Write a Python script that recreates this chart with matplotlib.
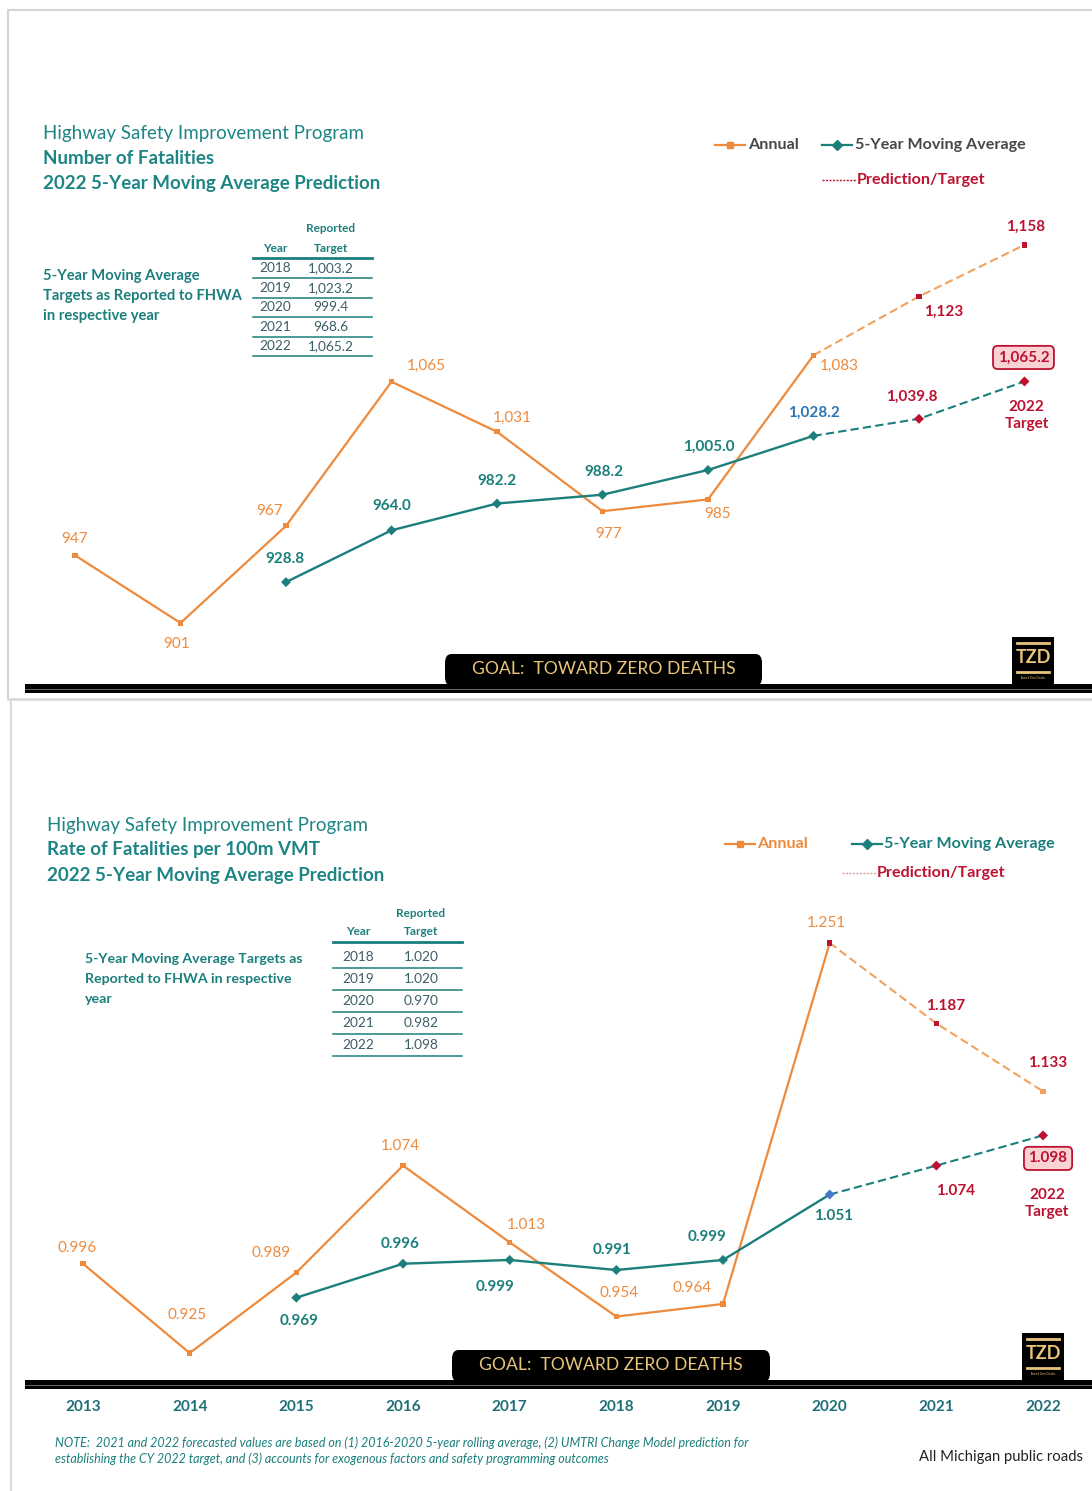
import matplotlib
matplotlib.use("Agg")
import matplotlib.pyplot as plt
from matplotlib.lines import Line2D
from matplotlib.patches import Rectangle, FancyBboxPatch

plt.rcParams['font.family'] = ['Lato', 'DejaVu Sans']

W, H = 1092, 1491

# ---- data ----
years = [2013, 2014, 2015, 2016, 2017, 2018, 2019, 2020, 2021, 2022]
ma_years = [2015, 2016, 2017, 2018, 2019, 2020, 2021, 2022]

fatal_annual = [947, 901, 967, 1065, 1031, 977, 985, 1083, 1123, 1158]
fatal_ma = [928.8, 964.0, 982.2, 988.2, 1005.0, 1028.2, 1039.8, 1065.2]

rate_annual = [0.996, 0.925, 0.989, 1.074, 1.013, 0.954, 0.964, 1.251, 1.187, 1.133]
rate_ma = [0.969, 0.996, 0.999, 0.991, 0.999, 1.051, 1.074, 1.098]

table_years = ['2018', '2019', '2020', '2021', '2022']
fatal_targets = ['1,003.2', '1,023.2', '999.4', '968.6', '1,065.2']
rate_targets = ['1.020', '1.020', '0.970', '0.982', '1.098']

# ---- colours ----
ORANGE = '#EE8A3C'
ORANGE_LIGHT = '#F2A25E'
TEAL = '#1B7F7C'
TITLE = '#1E8584'
RED = '#BC1230'
BLUE = '#2E75B6'
BLUE_MK = '#4A78C8'
GREY = '#474747'
TABLE_TXT = '#3B5E66'
GOLD = '#E8C47A'

fig = plt.figure(figsize=(W / 100, H / 100), dpi=100)


def fx(x):
    return x / W


def fy(y):
    return 1 - y / H


def ftext(x, y, s, **kw):
    kw.setdefault('ha', 'left')
    kw.setdefault('va', 'center')
    fig.text(fx(x), fy(y), s, **kw)


def fline(x0, x1, y0, y1, **kw):
    fig.add_artist(Line2D([fx(x0), fx(x1)], [fy(y0), fy(y1)],
                          transform=fig.transFigure, **kw))


def make_axes(x0, x1, y0, y1, xlim, ylim):
    ax = fig.add_axes([fx(x0), fy(y1), (x1 - x0) / W, (y1 - y0) / H])
    ax.set_xlim(*xlim)
    ax.set_ylim(*ylim)
    ax.patch.set_alpha(0)
    for s in ax.spines.values():
        s.set_visible(False)
    ax.set_yticks([])
    return ax


def label(ax, x, y, txt, off, color, bold=True, size=11, box=False):
    kw = dict(textcoords='offset points', ha='center', va='center',
              color=color, fontsize=size,
              fontweight='bold' if bold else 'normal', annotation_clip=False)
    if box:
        kw['bbox'] = dict(boxstyle='round,pad=0.3,rounding_size=0.3',
                          fc='#F9D3D3', ec=RED, lw=1.3)
    ax.annotate(txt, (x, y), xytext=(off[0] * 0.72, -off[1] * 0.72), **kw)


def draw_series(ax, annual, ma, ann_mk, ma_mk):
    ax.plot(years[:8], annual[:8], color=ORANGE, lw=1.6, zorder=2)
    ax.plot(years[7:], annual[7:], color=ORANGE_LIGHT, lw=1.5, ls=(0, (4, 2)), zorder=2)
    ax.plot(ma_years[:6], ma[:6], color=TEAL, lw=1.7, zorder=2)
    ax.plot(ma_years[5:], ma[5:], color=TEAL, lw=1.5, ls=(0, (4, 2)), zorder=2)
    ax.scatter(years, annual, marker='s', s=14, c=ann_mk, zorder=3, lw=0)
    ax.scatter(ma_years, ma, marker='D', s=26, c=ma_mk, zorder=3, lw=0)


def header(x, y, line2):
    ftext(x, y, 'Highway Safety Improvement Program', color=TITLE, fontsize=13.5)
    ftext(x, y + 24, line2, color=TITLE, fontsize=13.5, fontweight='bold')
    ftext(x, y + 49, '2022 5-Year Moving Average Prediction', color=TITLE,
          fontsize=13.5, fontweight='bold')


def target_table(x0, x1, xyr, xval, ytop, rows_y, values):
    ftext(xval, ytop, 'Reported', ha='center', color=TEAL, fontsize=8.5, fontweight='bold')
    ftext(xyr, ytop + 19, 'Year', ha='center', color=TEAL, fontsize=8.5, fontweight='bold')
    ftext(xval, ytop + 19, 'Target', ha='center', color=TEAL, fontsize=8.5, fontweight='bold')
    fline(x0, x1, ytop + 29, ytop + 29, color=TEAL, lw=2)
    step = rows_y[1] - rows_y[0]
    for yr, v, yy in zip(table_years, values, rows_y):
        ftext(xyr, yy, yr, ha='center', color=TABLE_TXT, fontsize=9.8)
        ftext(xval, yy, v, ha='center', color=TABLE_TXT, fontsize=9.8)
        fline(x0, x1, yy + step / 2, yy + step / 2, color=TEAL, lw=1.1)


def goal_bar(tab_x0, tab_x1, tab_y0, bar_y, logo_x, logo_y0):
    fig.add_artist(FancyBboxPatch((fx(tab_x0), fy(bar_y + 2)), (tab_x1 - tab_x0) / W,
                                  (bar_y + 2 - tab_y0) / H,
                                  boxstyle='round,pad=0,rounding_size=0.006',
                                  transform=fig.transFigure, fc='black', ec='none'))
    ftext((tab_x0 + tab_x1) / 2, (tab_y0 + bar_y) / 2, 'GOAL:  TOWARD ZERO DEATHS',
          ha='center', color=GOLD, fontsize=12.6)
    fig.add_artist(Rectangle((fx(25), fy(bar_y + 9)), (W - 25) / W, 9 / H,
                             transform=fig.transFigure, fc='black', ec='none'))
    fline(25, W, bar_y + 4.5, bar_y + 4.5, color='#777777', lw=0.6)
    # TZD logo
    fig.add_artist(Rectangle((fx(logo_x), fy(bar_y)), 42 / W, (bar_y - logo_y0) / H,
                             transform=fig.transFigure, fc='black', ec='none'))
    fline(logo_x + 5, logo_x + 37, logo_y0 + 6, logo_y0 + 6, color=GOLD, lw=2)
    fline(logo_x + 5, logo_x + 37, bar_y - 12, bar_y - 12, color=GOLD, lw=2)
    ftext(logo_x + 21, (logo_y0 + bar_y) / 2 - 3, 'TZD', ha='center', color=GOLD,
          fontsize=13, fontweight='bold')
    ftext(logo_x + 21, bar_y - 6, 'Toward Zero Deaths', ha='center', color=GOLD, fontsize=2)


# ---- panel frames ----
fline(8, W, 10, 10, color='#D5D5D5', lw=1.5)
fline(8, 8, 10, 697, color='#D5D5D5', lw=1.5)
fline(8, W, 699, 699, color='#DADADA', lw=2)
fline(11, 11, 700, H, color='#DADADA', lw=1.5)

# ================= top: number of fatalities =================
ax1 = make_axes(0, W, 10, 695, (2012.289, 2022.640), (852.05, 1317.7))
ax1.set_xticks([])

ann_mk1 = [ORANGE] * 8 + [RED, RED]
ma_mk1 = [TEAL] * 6 + [RED, RED]
draw_series(ax1, fatal_annual, fatal_ma, ann_mk1, ma_mk1)

ann_off1 = [(0, -16), (-4, 21), (-16, -15), (35, -16), (15, -14), (6, 23), (10, 15),
            (26, 11), (25, 15), (1, -18)]
for i, (x, v) in enumerate(zip(years, fatal_annual)):
    col = RED if i >= 8 else ORANGE
    label(ax1, x, v, f'{v:,}', ann_off1[i], col, bold=(i >= 8))

ma_off1 = [(-1, -23), (0, -24), (0, -23), (1, -23), (1, -23), (0, -23), (-7, -22), (-1, -24)]
ma_col1 = [TEAL] * 5 + [BLUE, RED, RED]
for i, (x, v) in enumerate(zip(ma_years, fatal_ma)):
    label(ax1, x, v, f'{v:,.1f}', ma_off1[i], ma_col1[i], box=(i == 7))
label(ax1, 2022, fatal_ma[-1], '2022\nTarget', (2, 34), RED)

header(43, 134, 'Number of Fatalities')
for k, line in enumerate(['5-Year Moving Average', 'Targets as Reported to FHWA',
                          'in respective year']):
    ftext(43, 276 + 20 * k, line, color=TEAL, fontsize=10.6, fontweight='bold')
target_table(253, 372, 275, 331, 229, [268, 288, 307, 327, 346], fatal_targets)

# legend
fline(715, 745, 145, 145, color=ORANGE, lw=1.6)
fig.add_artist(Line2D([fx(730)], [fy(145)], transform=fig.transFigure, marker='s',
                      ms=4, color=ORANGE))
ftext(748, 145, 'Annual', color=GREY, fontsize=11.6, fontweight='bold')
fline(822, 852, 145, 145, color=TEAL, lw=1.6)
fig.add_artist(Line2D([fx(837)], [fy(145)], transform=fig.transFigure, marker='D',
                      ms=5, color=TEAL))
ftext(855, 145, '5-Year Moving Average', color=GREY, fontsize=11.6, fontweight='bold')
fline(822, 856, 180, 180, color=RED, lw=1, ls=(0, (1.5, 1)))
ftext(857, 180, 'Prediction/Target', color=RED, fontsize=11.6, fontweight='bold')

goal_bar(445, 762, 654, 684, 1012, 637)

# ================= bottom: fatality rate =================
ax2 = make_axes(0, W, 700, 1386, (2012.222, 2022.459), (0.8988, 1.4441))
ax2.set_xticks(years)
ax2.set_xticklabels([str(y) for y in years], color='#1F6F78', fontsize=11, fontweight='bold')
ax2.tick_params(axis='x', length=0, pad=10)

ann_mk2 = [ORANGE] * 7 + [RED, RED, ORANGE_LIGHT]
ma_mk2 = [TEAL] * 5 + [BLUE_MK, RED, RED]
draw_series(ax2, rate_annual, rate_ma, ann_mk2, ma_mk2)

ann_off2 = [(-6, -16), (-3, -38), (-25, -20), (-3, -20), (17, -17), (3, -24), (-31, -16),
            (-3, -20), (9, -17), (5, -28)]
for i, (x, v) in enumerate(zip(years, rate_annual)):
    col = RED if i >= 8 else ORANGE
    label(ax2, x, v, f'{v:.3f}', ann_off2[i], col, bold=(i >= 8))

ma_off2 = [(3, 23), (-3, -20), (-15, 27), (-4, -20), (-16, -23), (4, 21), (19, 25), (5, 23)]
ma_col2 = [TEAL] * 6 + [RED, RED]
for i, (x, v) in enumerate(zip(ma_years, rate_ma)):
    label(ax2, x, v, f'{v:.3f}', ma_off2[i], ma_col2[i], box=(i == 7))
label(ax2, 2022, rate_ma[-1], '2022\nTarget', (4, 68), RED)

header(47, 826, 'Rate of Fatalities per 100m VMT')
for k, line in enumerate(['5-Year Moving Average Targets as', 'Reported to FHWA in respective',
                          'year']):
    ftext(85, 959 + 20 * k, line, color=TEAL, fontsize=10.2, fontweight='bold')
target_table(333, 462, 358, 421, 913, [957, 979, 1001, 1023, 1045], rate_targets)

# legend
fline(725, 755, 844, 844, color=ORANGE, lw=1.6)
fig.add_artist(Line2D([fx(740)], [fy(844)], transform=fig.transFigure, marker='s',
                      ms=4, color=ORANGE))
ftext(757, 844, 'Annual', color=ORANGE, fontsize=11.6, fontweight='bold')
fline(852, 882, 844, 844, color=TEAL, lw=1.6)
fig.add_artist(Line2D([fx(867)], [fy(844)], transform=fig.transFigure, marker='D',
                      ms=5, color=TEAL))
ftext(884, 844, '5-Year Moving Average', color=TEAL, fontsize=11.6, fontweight='bold')
fline(842, 876, 873, 873, color='#D9A0A8', lw=1, ls=(0, (1.5, 1)))
ftext(877, 873, 'Prediction/Target', color=RED, fontsize=11.6, fontweight='bold')

goal_bar(452, 770, 1350, 1380, 1022, 1333)

# footer notes
ftext(55, 1443, 'NOTE:  2021 and 2022 forecasted values are based on (1) 2016-2020 5-year rolling '
      'average, (2) UMTRI Change Model prediction for', color=TEAL, fontsize=9, style='italic')
ftext(55, 1459, 'establishing the CY 2022 target, and (3) accounts for exogenous factors and '
      'safety programming outcomes', color=TEAL, fontsize=9, style='italic')
ftext(1083, 1457, 'All Michigan public roads', ha='right', color='#222222', fontsize=10.7)

fig.savefig('out.png', dpi=100)
